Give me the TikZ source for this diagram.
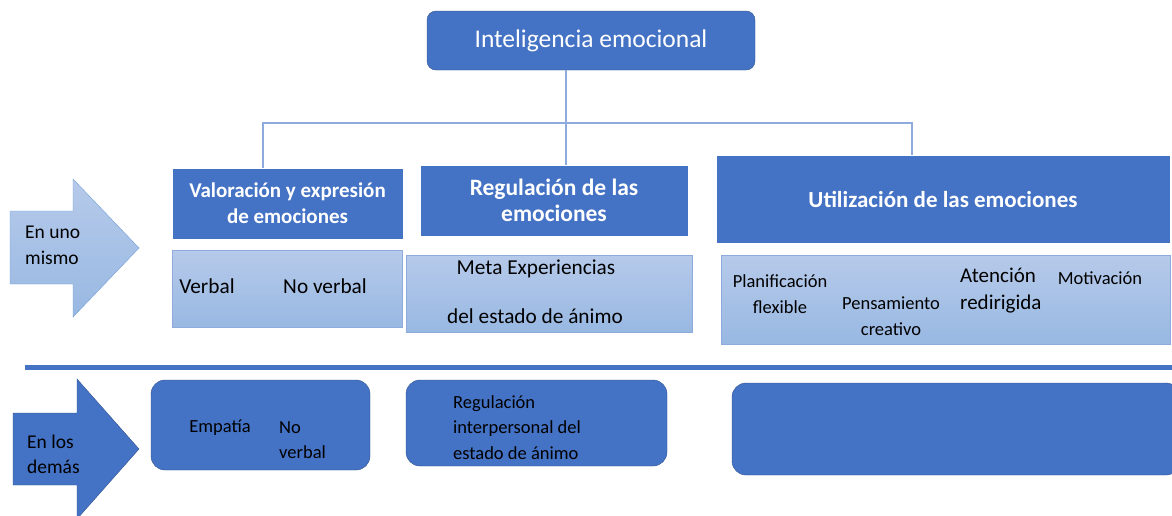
\documentclass[tikz,border=0pt]{standalone}
\usepackage{fontspec}
\setmainfont{Carlito}
\usetikzlibrary{positioning}
\definecolor{azul}{HTML}{4472C4}
\definecolor{azulosc}{HTML}{2F528F}
\definecolor{celeste}{HTML}{B6CAEA}
\definecolor{celesteb}{HTML}{98B8E2}
\definecolor{linea}{HTML}{8FAADC}
\definecolor{borde}{HTML}{6F9FD8}
\tikzset{x=1pt, y=-1pt,
  cab/.style={draw=white, fill=azul, text=white, inner sep=0pt, align=center,
    font=\bfseries\fontsize{21}{26}\selectfont},
  clara/.style={draw=linea, top color=celeste, bottom color=celesteb, inner sep=0pt},
  oscura/.style={draw=azulosc, fill=azul, rounded corners=14pt, inner sep=0pt},
  txt/.style={inner sep=0pt, align=center, font=\fontsize{21.3}{26}\selectfont},
  chico/.style={inner sep=0pt, align=center, font=\fontsize{18.5}{26}\selectfont},
  izq/.style={inner sep=0pt, anchor=west, align=left, font=\fontsize{18.5}{25.5}\selectfont},
  arbol/.style={draw=linea, line width=1.2pt}
}

\begin{document}
\begin{tikzpicture}
  \useasboundingbox (0,0) rectangle (1172,515);

  % titulo y cabeceras
  \node (ie) [draw=azulosc, fill=azul, rounded corners=9pt, text=white, minimum width=328pt,
    minimum height=59pt, font=\fontsize{25.5}{30}\selectfont] at (591,40.5) {Inteligencia emocional};
  \node (val) [cab, minimum width=231pt, minimum height=71pt] at (287.5,203.5)
    {Valoración y expresión\\de emociones};
  \node (reg) [cab, minimum width=268pt, minimum height=71pt, font=\bfseries\fontsize{23.5}{26}\selectfont]
    at (554,200.5) {Regulación de las\\emociones};
  \node (uti) [cab, minimum width=454pt, minimum height=88pt, font=\bfseries\fontsize{23}{26}\selectfont]
    at (943,199) {Utilización de las emociones};

  \coordinate (fork) at (566,123);
  \draw [arbol] ([xshift=-25pt]ie.south) -- (fork);
  \draw [arbol] ([xshift=-24.5pt]val.north) |- (fork) -| ([xshift=-31pt]uti.north);
  \draw [arbol] (fork) -- ([xshift=12pt]reg.north);

  % en uno mismo
  \draw [draw=borde, top color=celeste, bottom color=celesteb]
    (10,211) -- (73,211) -- (73,179) -- (139,248) -- (73,317) -- (73,284) -- (10,284) -- cycle;
  \node (uno) [izq, font=\fontsize{19.5}{25.5}\selectfont] at (25,245.5) {En uno\\mismo};

  \node (lval) [clara, minimum width=230pt, minimum height=77pt] at (287,288.5) {};
  \node (lreg) [clara, minimum width=286pt, minimum height=77pt] at (549,293.5) {};
  \node (luti) [clara, minimum width=449pt, minimum height=89pt] at (945.5,299.5) {};

  \node (verbal) [txt] at (207,286) {Verbal};
  \node (noverbal) [txt] at (325,286) {No verbal};
  \node (meta) [txt] at (536,269) {Meta Experiencias};
  \node (estado) [txt] at (535,316) {del estado de ánimo};
  \node (plan) [chico] at (780,294) {Planificación\\flexible};
  \node (pens) [chico] at (891,316) {Pensamiento\\creativo};
  \node (aten) [chico, anchor=west, align=left, font=\fontsize{21}{27}\selectfont] at (960,291)
    {Atención\\redirigida};
  \node (motiv) [chico] at (1100,278) {Motivación};

  % separador
  \draw [azul, line width=5pt] (25,367) -- (1172,367);

  % en los demas
  \draw [draw=azulosc, fill=azul]
    (13,413) -- (77,413) -- (77,379) -- (139,449) -- (77,519) -- (77,485) -- (13,485) -- cycle;
  \node (demas) [izq, font=\fontsize{19.5}{25.5}\selectfont] at (27,454.5) {En los\\demás};

  \node (emp) [oscura, minimum width=219pt, minimum height=90pt] at (260.5,425) {};
  \node (rip) [oscura, minimum width=261pt, minimum height=86pt] at (536.5,423) {};
  \node (ext) [oscura, minimum width=448pt, minimum height=92pt] at (956,429) {};

  \node (empatia) [chico] at (220,428) {Empatía};
  \node (noverb) [izq] at (279,440) {No\\verbal};
  \node (regint) [izq] at (453,427.5) {Regulación\\interpersonal del\\estado de ánimo};
\end{tikzpicture}
\end{document}
